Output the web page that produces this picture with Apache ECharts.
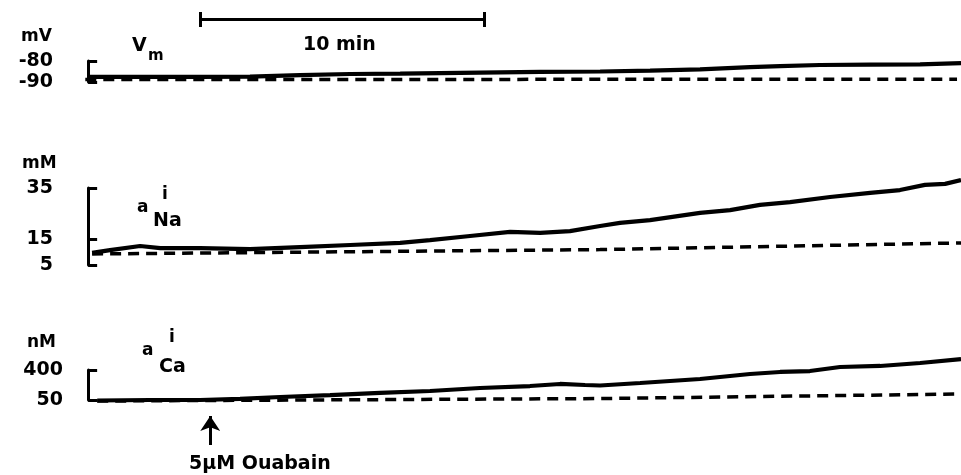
<!DOCTYPE html>
<html>
<head>
<meta charset="utf-8">
<script src="https://cdn.jsdelivr.net/npm/echarts@6/dist/echarts.min.js"></script>
<style>
  html, body { margin: 0; padding: 0; background: #fff; }
  #chart { width: 961px; height: 475px; }
</style>
</head>
<body>
<div id="chart"></div>
<script>
// time in minutes from start of recording
const vmTime = [0, 2.18, 3.94, 5.70, 7.46, 9.23, 10.99, 13.80, 15.92, 18.03, 19.79, 21.55, 23.31, 24.37, 25.77, 27.54, 29.30, 30.74];
const vmValue = [-87.6, -87.6, -87.6, -87.4, -86.7, -86.2, -86.0, -85.5, -85.2, -85.0, -84.6, -84.0, -82.9, -82.4, -81.9, -81.7, -81.6, -81.0];
const vmBaseTime = [-0.1, 30.6];
const vmBaseValue = [-88.8, -88.7];

const naTime = [0.14, 0.77, 1.83, 2.54, 3.94, 5.70, 7.46, 9.23, 10.99, 12.04, 13.45, 14.86, 15.92, 16.97, 18.03, 18.73, 19.79, 21.55, 22.61, 23.66, 24.72, 26.13, 27.54, 28.59, 29.47, 30.18, 30.74];
const naValue = [9.7, 10.8, 12.4, 11.6, 11.6, 11.2, 12.0, 12.8, 13.6, 14.7, 16.3, 17.9, 17.5, 18.2, 20.2, 21.4, 22.5, 25.3, 26.4, 28.4, 29.5, 31.5, 33.1, 34.2, 36.2, 36.6, 38.1];
const naBaseTime = [0.14, 18.03, 30.74];
const naBaseValue = [9.3, 11.0, 13.6];

const caTime = [0.32, 2.18, 3.94, 5.35, 6.76, 8.52, 10.28, 12.04, 13.80, 15.56, 16.62, 17.50, 18.03, 19.44, 21.55, 23.31, 24.37, 25.42, 26.48, 27.89, 29.30, 30.74];
const caValue = [44, 50, 50, 62, 85, 108, 132, 155, 190, 213, 237, 225, 219, 248, 295, 353, 377, 388, 435, 447, 482, 528];
const caBaseTime = [0.32, 18.03, 30.74];
const caBaseValue = [38, 67, 120];

const vmTicks = [-90, -80];
const naTicks = [5, 15, 35];
const caTicks = [50, 400];

const scaleBar = [3.94, 13.94]; // 10 min
const ouabainTime = 4.30;

const FONT = 'DejaVu Sans';
const pair = (xs, ys) => xs.map((x, i) => [x, ys[i]]);

const xRange = {min: -0.85, max: 30.74};
const grids = [
    {left: 64, right: 0, top: 61, height: 21},
    {left: 64, right: 0, top: 188, height: 77},
    {left: 64, right: 0, top: 370, height: 30},
    {left: 64, right: 0, top: 12, height: 15},
    {left: 64, right: 0, top: 416, height: 29}
];

function panelAxis(gridIndex, min, max, ticks, offset, margin) {
    return {
        type: 'value', gridIndex: gridIndex, min: min, max: max, offset: offset,
        axisLine: {show: true, lineStyle: {color: '#000', width: 3}},
        axisTick: {show: true, inside: true, length: 9, customValues: ticks, lineStyle: {color: '#000', width: 3}},
        axisLabel: {show: true, customValues: ticks, margin: margin, color: '#000', fontFamily: FONT, fontWeight: 'bold', fontSize: 19},
        splitLine: {show: false}
    };
}

function trace(idx, data, dashed) {
    return {
        type: 'line', xAxisIndex: idx, yAxisIndex: idx, data: data,
        showSymbol: false, clip: false, silent: true,
        lineStyle: dashed ? {color: '#000', width: 3.5, type: [11, 7]} : {color: '#000', width: 4.2}
    };
}

function label(text, x, y, size) {
    return {
        type: 'text', x: x, y: y, silent: true,
        style: {text: text, fill: '#000', fontFamily: FONT, fontWeight: 'bold', fontSize: size, textAlign: 'left', textVerticalAlign: 'middle'}
    };
}

const myChart = echarts.init(document.getElementById('chart'), null, {renderer: 'canvas'});
myChart.setOption({
    animation: false,
    backgroundColor: '#fff',
    grid: grids,
    xAxis: grids.map((g, i) => ({type: 'value', gridIndex: i, min: xRange.min, max: xRange.max, show: false})),
    yAxis: [
        panelAxis(0, -90, -80, vmTicks, -1, 12),
        panelAxis(1, 5, 35, naTicks, -3, 14),
        panelAxis(2, 50, 400, caTicks, -8, 9),
        {type: 'value', gridIndex: 3, min: -1, max: 1, show: false},
        {type: 'value', gridIndex: 4, min: 0, max: 1, show: false}
    ],
    series: [
        trace(0, pair(vmBaseTime, vmBaseValue), true),
        trace(0, pair(vmTime, vmValue), false),
        trace(1, pair(naBaseTime, naBaseValue), true),
        trace(1, pair(naTime, naValue), false),
        trace(2, pair(caBaseTime, caBaseValue), true),
        trace(2, pair(caTime, caValue), false),
        {
            type: 'lines', coordinateSystem: 'cartesian2d', xAxisIndex: 3, yAxisIndex: 3, silent: true,
            lineStyle: {color: '#000', width: 3, opacity: 1},
            data: [
                {coords: [[scaleBar[0], 0], [scaleBar[1], 0]]},
                {coords: [[scaleBar[0], -1], [scaleBar[0], 1]]},
                {coords: [[scaleBar[1], -1], [scaleBar[1], 1]]}
            ]
        },
        {
            type: 'lines', coordinateSystem: 'cartesian2d', xAxisIndex: 4, yAxisIndex: 4, silent: true,
            symbol: ['none', 'arrow'], symbolSize: [11, 15],
            lineStyle: {color: '#000', width: 3, opacity: 1},
            data: [{coords: [[ouabainTime, 0], [ouabainTime, 1]]}]
        }
    ],
    graphic: [
        label('10 min', 303, 45, 19),
        label('mV', 21, 37, 17),
        label('V', 132, 46, 19),
        label('m', 148, 56, 15),
        label('mM', 22, 164, 17),
        label('a', 137, 208, 17),
        label('i', 162, 195, 17),
        label('Na', 153, 221, 19),
        label('nM', 27, 343, 17),
        label('a', 142, 351, 17),
        label('i', 169, 338, 17),
        label('Ca', 159, 367, 19),
        label('5\u03bcM Ouabain', 189, 464, 19)
    ]
});
</script>
</body>
</html>
